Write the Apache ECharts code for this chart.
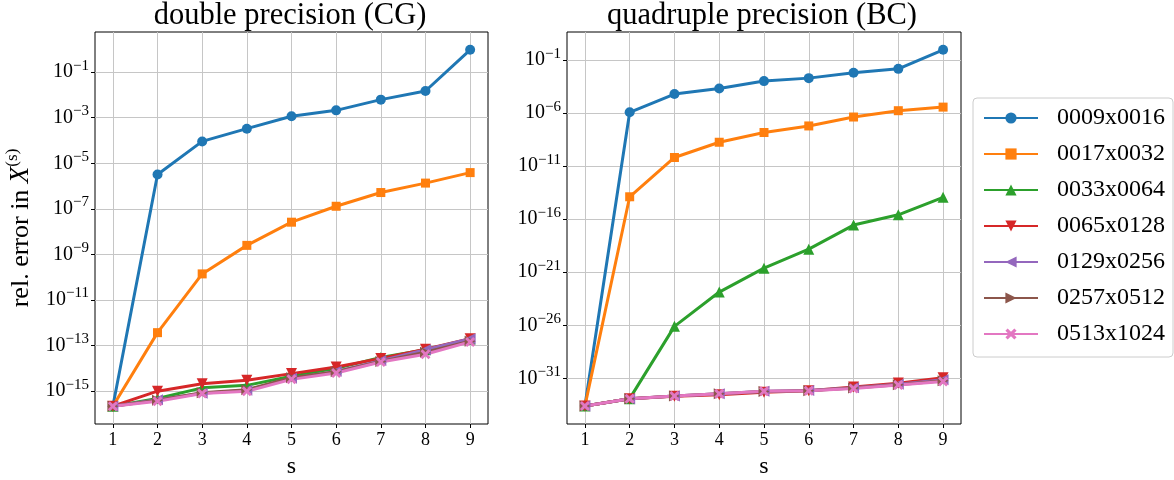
<!DOCTYPE html>
<html>
<head>
<meta charset="utf-8">
<script src="https://cdn.jsdelivr.net/npm/echarts@6/dist/echarts.min.js"></script>
<style>
  html, body { margin: 0; padding: 0; background: #fff; }
  #chart { width: 1174px; height: 480px; }
</style>
</head>
<body>
<div id="chart"></div>
<script>
// s values and grid sizes
const S = [1, 2, 3, 4, 5, 6, 7, 8, 9];
const names = ['0009x0016', '0017x0032', '0033x0064', '0065x0128', '0129x0256', '0257x0512', '0513x1024'];

// double precision (CG)
const dbl0009 = [2.2e-16, 3.2e-6, 9.1e-5, 3.3e-4, 1.15e-3, 2.1e-3, 6.2e-3, 1.48e-2, 0.95];
const dbl0017 = [2.2e-16, 3.7e-13, 1.4e-10, 2.5e-9, 2.6e-8, 1.3e-7, 5.2e-7, 1.35e-6, 3.9e-6];
const dbl0033 = [2.2e-16, 4.8e-16, 1.4e-15, 1.8e-15, 4.5e-15, 1.0e-14, 3.0e-14, 6.6e-14, 1.9e-13];
const dbl0065 = [2.2e-16, 1.0e-15, 2.1e-15, 3.0e-15, 5.9e-15, 1.15e-14, 2.7e-14, 6.9e-14, 2.0e-13];
const dbl0129 = [2.2e-16, 4.2e-16, 8.1e-16, 1.1e-15, 3.7e-15, 7.4e-15, 2.2e-14, 6.6e-14, 2.0e-13];
const dbl0257 = [2.2e-16, 4.0e-16, 8.5e-16, 1.15e-15, 3.9e-15, 7.1e-15, 2.0e-14, 5.1e-14, 1.55e-13];
const dbl0513 = [2.2e-16, 3.6e-16, 7.9e-16, 1.0e-15, 3.3e-15, 6.3e-15, 1.9e-14, 4.2e-14, 1.45e-13];

// quadruple precision (BC)
const quad0009 = [2.4e-34, 1.2e-6, 6.3e-5, 2.1e-4, 1.05e-3, 2.0e-3, 6.5e-3, 1.5e-2, 0.93];
const quad0017 = [2.4e-34, 1.3e-14, 6.6e-11, 1.8e-9, 1.5e-8, 6.2e-8, 4.3e-7, 1.7e-6, 3.7e-6];
const quad0033 = [2.4e-34, 1.2e-33, 7.9e-27, 1.35e-23, 2.4e-21, 1.5e-19, 2.8e-17, 2.6e-16, 1.15e-14];
const quad0065 = [2.4e-34, 1.2e-33, 2.0e-33, 2.8e-33, 4.8e-33, 6.6e-33, 1.5e-32, 3.5e-32, 1.1e-31];
const quad0129 = [2.4e-34, 1.2e-33, 2.1e-33, 3.5e-33, 6.0e-33, 6.9e-33, 1.3e-32, 2.8e-32, 7.1e-32];
const quad0257 = [2.4e-34, 1.2e-33, 2.1e-33, 3.4e-33, 5.6e-33, 6.6e-33, 1.2e-32, 2.5e-32, 6.0e-32];
const quad0513 = [2.4e-34, 1.2e-33, 2.1e-33, 3.5e-33, 5.9e-33, 6.6e-33, 1.1e-32, 2.3e-32, 5.0e-32];

const dblTicks = [1e-15, 1e-13, 1e-11, 1e-9, 1e-7, 1e-5, 1e-3, 1e-1];
const quadTicks = [1e-31, 1e-26, 1e-21, 1e-16, 1e-11, 1e-6, 1e-1];

const dblSets = [dbl0009, dbl0017, dbl0033, dbl0065, dbl0129, dbl0257, dbl0513];
const quadSets = [quad0009, quad0017, quad0033, quad0065, quad0129, quad0257, quad0513];

const colors = ['#1f77b4', '#ff7f0e', '#2ca02c', '#d62728', '#9467bd', '#8c564b', '#e377c2'];
const xMark = 'path://M0,2 L2,0 L5,3 L8,0 L10,2 L7,5 L10,8 L8,10 L5,7 L2,10 L0,8 L3,5 Z';
const symbols = ['circle', 'rect', 'triangle', 'triangle', 'triangle', 'triangle', xMark];
const rotates = [0, 0, 0, 180, 90, -90, 0];
const sizes = [10, 9, 11, 11, 11, 11, 10];

const FONT = 'Liberation Serif';

function expLabel(v){
  const e = Math.round(Math.log10(v));
  return '{b|10}{s|' + (e < 0 ? '\u2212' : '') + Math.abs(e) + '}';
}

const grids = [
  { left: 95, top: 32, width: 393, height: 392 },
  { left: 567, top: 32, width: 394, height: 392 }
].map(g => Object.assign({ show: true, borderColor: '#000', borderWidth: 1, backgroundColor: 'transparent', containLabel: false, outerBoundsMode: 'none' }, g));

function xAxis(idx){
  return {
    type: 'value', gridIndex: idx, min: 0.6, max: 9.4, splitNumber: 9,
    name: 's', nameLocation: 'middle', nameGap: 31,
    nameTextStyle: { fontFamily: FONT, fontSize: 24, color: '#000' },
    axisLine: { show: false },
    axisTick: { show: true, inside: false, length: 4, lineStyle: { color: '#000' }, customValues: S },
    axisLabel: { customValues: S, margin: 7, fontFamily: FONT, fontSize: 18, color: '#000' },
    splitLine: { show: true, lineStyle: { color: '#c6c6c6', width: 1 } }
  };
}

function yAxis(idx, lo, hi, ticks, withName){
  const ax = {
    type: 'log', logBase: 10, gridIndex: idx, min: Math.pow(10, lo), max: Math.pow(10, hi),
    axisLine: { show: false },
    axisTick: { show: true, inside: false, length: 4, lineStyle: { color: '#000' }, customValues: ticks },
    axisLabel: {
      customValues: ticks, margin: 6, color: '#000', formatter: expLabel,
      fontFamily: FONT, fontSize: 20,
      rich: {
        b: { fontFamily: FONT, fontSize: 20, lineHeight: 28, verticalAlign: 'middle', color: '#000' },
        s: { fontFamily: FONT, fontSize: 15, lineHeight: 12, verticalAlign: 'top', color: '#000' }
      }
    },
    splitLine: { show: true, lineStyle: { color: '#c6c6c6', width: 1 } }
  };
  if(withName){
    ax.name = 'rel. error in {i|X}{p|(s)}';
    ax.nameLocation = 'middle';
    ax.nameGap = 57;
    ax.nameRotate = 90;
    ax.nameTextStyle = {
      fontFamily: FONT, fontSize: 26, color: '#000',
      rich: {
        i: { fontFamily: FONT, fontSize: 27, fontStyle: 'italic', lineHeight: 34, verticalAlign: 'middle' },
        p: { fontFamily: FONT, fontSize: 17, lineHeight: 14, verticalAlign: 'top' }
      }
    };
  }
  return ax;
}

const series = [];
[dblSets, quadSets].forEach((sets, g) => {
  sets.forEach((arr, i) => {
    series.push({
      name: names[i], type: 'line', xAxisIndex: g, yAxisIndex: g,
      data: S.map((x, k) => [x, arr[k]]),
      symbol: symbols[i], symbolRotate: rotates[i], symbolSize: sizes[i],
      showAllSymbol: true,
      lineStyle: { color: colors[i], width: 3 },
      itemStyle: { color: colors[i], borderWidth: 0 },
      emphasis: { disabled: true },
      animation: false
    });
  });
});

const chart = echarts.init(document.getElementById('chart'), null, { renderer: 'canvas' });
chart.setOption({
  animation: false,
  backgroundColor: '#fff',
  title: [
    { text: 'double precision (CG)', left: 290, top: 0, padding: 0, textAlign: 'center',
      textStyle: { fontFamily: FONT, fontSize: 30.5, fontWeight: 'normal', color: '#000' } },
    { text: 'quadruple precision (BC)', left: 762, top: 0, padding: 0, textAlign: 'center',
      textStyle: { fontFamily: FONT, fontSize: 30.5, fontWeight: 'normal', color: '#000' } }
  ],
  legend: {
    orient: 'vertical', left: 973, top: 98,
    data: names, selectedMode: false,
    itemWidth: 54, itemHeight: 14, itemGap: 12,
    padding: [8, 8, 11, 10],
    borderColor: '#cccccc', borderWidth: 1, borderRadius: 4, backgroundColor: '#fff',
    textStyle: { fontFamily: FONT, fontSize: 24, color: '#000', padding: [0, 0, 0, 14] }
  },
  grid: grids,
  xAxis: [xAxis(0), xAxis(1)],
  yAxis: [yAxis(0, -16.44, 0.76, dblTicks, true), yAxis(1, -35.31, 1.65, quadTicks, false)],
  series: series
});
</script>
</body>
</html>
